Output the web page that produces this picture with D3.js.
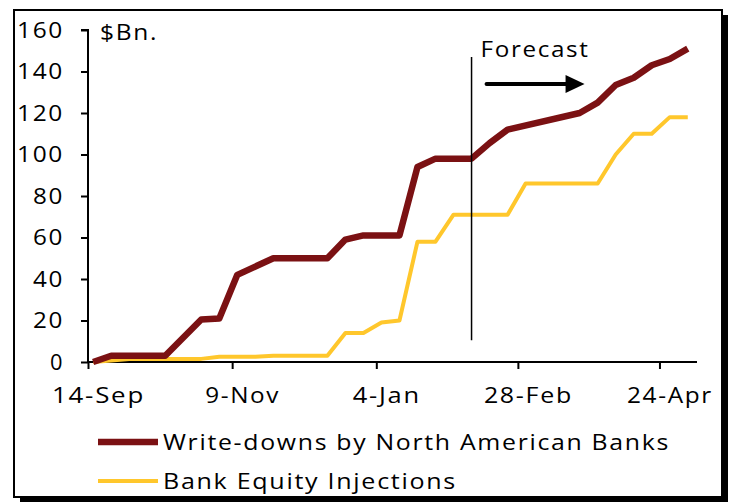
<!DOCTYPE html>
<html>
<head>
<meta charset="utf-8">
<script src="https://cdn.jsdelivr.net/npm/d3@7"></script>
<style>
  html, body { margin: 0; padding: 0; background: #fff; }
  svg { display: block; }
  text { font-family: "Open Sans", "Noto Sans", sans-serif; fill: #000; }
</style>
</head>
<body>
<svg id="chart" width="731" height="503"></svg>
<script>
// Weekly observations (vertices of each series), $Bn.
const writedownDates = ["2008-09-16","2008-09-23","2008-10-14","2008-10-28","2008-11-04","2008-11-11",
  "2008-11-25","2008-12-16","2008-12-23","2008-12-30","2009-01-13","2009-01-20","2009-01-27",
  "2009-02-10","2009-02-17","2009-02-24","2009-03-24","2009-03-31","2009-04-07","2009-04-14",
  "2009-04-21","2009-04-28","2009-05-05"];
const writedowns = [0, 3, 3, 20.5, 21, 42, 50, 50, 59, 61, 61, 94, 98, 98, 105.5, 112, 120, 125,
  133.5, 137, 143, 146, 151];

const injectionDates = ["2008-09-16","2008-09-30","2008-10-28","2008-11-04","2008-11-18","2008-11-25",
  "2008-12-16","2008-12-23","2008-12-30","2009-01-06","2009-01-13","2009-01-20","2009-01-27",
  "2009-02-03","2009-02-24","2009-03-03","2009-03-31","2009-04-07","2009-04-14","2009-04-21",
  "2009-04-28","2009-05-05"];
const injections = [0, 1.5, 1.5, 2.5, 2.5, 3, 3, 14, 14, 19, 20, 58, 58, 71, 71, 86, 86, 100, 110,
  110, 118, 118];

const xTickDates = ["2008-09-14","2008-11-09","2009-01-04","2009-02-28","2009-04-24"];
const xTickLabels = ["14-Sep","9-Nov","4-Jan","28-Feb","24-Apr"];
const yTicks = [0, 20, 40, 60, 80, 100, 120, 140, 160];

const seriesNames = ["Write-downs by North American Banks", "Bank Equity Injections"];
const forecastDate = "2009-02-10";
const forecastSpan = [10.5, 147];

const FS = 22;
const parse = d3.utcParse("%Y-%m-%d");
const svg = d3.select("#chart");

// the typeface is set wide and open; fit each label to its set width
function fit(sel, w) {
  sel.attr("letter-spacing", 1.5).attr("textLength", w).attr("lengthAdjust", "spacingAndGlyphs");
}

// framed panel with drop shadow
svg.append("rect").attr("x", 20).attr("y", 15).attr("width", 708).attr("height", 487).attr("fill", "#000");
svg.append("rect").attr("x", 14).attr("y", 10).attr("width", 708).attr("height", 487)
  .attr("fill", "#fff").attr("stroke", "#000").attr("stroke-width", 2);

const x = d3.scaleUtc()
  .domain([parse("2008-09-14"), new Date(Date.UTC(2009, 4, 8, 14))])
  .range([88, 697]);
const y = d3.scaleLinear().domain([0, 160]).range([362, 30]);

// y axis
const yAxis = svg.append("g").attr("transform", "translate(88,0)")
  .call(d3.axisLeft(y).tickValues(yTicks).tickSize(7).tickPadding(17).tickFormat(d3.format("d")));
yAxis.select(".domain").attr("stroke-width", 2).attr("d", `M-7,${y(160)}H0V${y(0)}`);
yAxis.selectAll(".tick line").attr("stroke-width", 2);
yAxis.selectAll(".tick text").attr("font-size", FS).attr("font-family", null)
  .each(function(d) { fit(d3.select(this), [14, 31, 47][String(d).length - 1]); });

// x axis
const xLabelWidths = [93, 75, 68, 89, 86];
const xAxis = svg.append("g").attr("transform", `translate(0,${y(0)})`)
  .call(d3.axisBottom(x).tickValues(xTickDates.map(parse)).tickSize(7).tickPadding(18)
    .tickFormat((d, i) => xTickLabels[i]));
xAxis.select(".domain").attr("stroke-width", 2).attr("d", `M${x.range()[0]},0H${x.range()[1]}`);
xAxis.selectAll(".tick line").attr("stroke-width", 2);
xAxis.selectAll(".tick text").attr("font-size", FS).attr("font-family", null).attr("dx", 10)
  .each(function(d, i) { fit(d3.select(this), xLabelWidths[i]); });

fit(svg.append("text").attr("x", 100).attr("y", 40).attr("font-size", FS).text("$Bn."), 58);

const line = d3.line().x(d => x(d[0])).y(d => y(d[1]));

const injData = injectionDates.map((d, i) => [parse(d), injections[i]]);
const wdData = writedownDates.map((d, i) => [parse(d), writedowns[i]]);

svg.append("path").datum(injData).attr("d", line).attr("fill", "none")
  .attr("stroke", "#ffc72c").attr("stroke-width", 4).attr("stroke-linejoin", "round");
svg.append("path").datum(wdData).attr("d", line).attr("fill", "none")
  .attr("stroke", "#7b1113").attr("stroke-width", 6.5).attr("stroke-linejoin", "round");

// forecast divider and annotation
const fx = x(parse(forecastDate));
svg.append("line").attr("x1", fx).attr("x2", fx)
  .attr("y1", y(forecastSpan[1])).attr("y2", y(forecastSpan[0]))
  .attr("stroke", "#000").attr("stroke-width", 1.5);
fit(svg.append("text").attr("x", fx + 9).attr("y", 57).attr("font-size", FS).text("Forecast"), 109);
svg.append("line").attr("x1", fx + 15).attr("x2", fx + 96).attr("y1", 84).attr("y2", 84)
  .attr("stroke", "#000").attr("stroke-width", 4).attr("stroke-linecap", "round");
svg.append("path").attr("d", `M${fx + 94},${75}L${fx + 113},${84}L${fx + 94},${93}Z`).attr("fill", "#000");

// legend
const legend = svg.append("g");
const legendRows = [
  { name: seriesNames[0], color: "#7b1113", width: 6.5, yy: 442, w: 507 },
  { name: seriesNames[1], color: "#ffc72c", width: 4, yy: 481, w: 294 }
];
legendRows.forEach(r => {
  legend.append("line").attr("x1", 98).attr("x2", 158).attr("y1", r.yy).attr("y2", r.yy)
    .attr("stroke", r.color).attr("stroke-width", r.width);
  fit(legend.append("text").attr("x", 163).attr("y", r.yy + 8).attr("font-size", FS).text(r.name), r.w);
});
</script>
</body>
</html>
